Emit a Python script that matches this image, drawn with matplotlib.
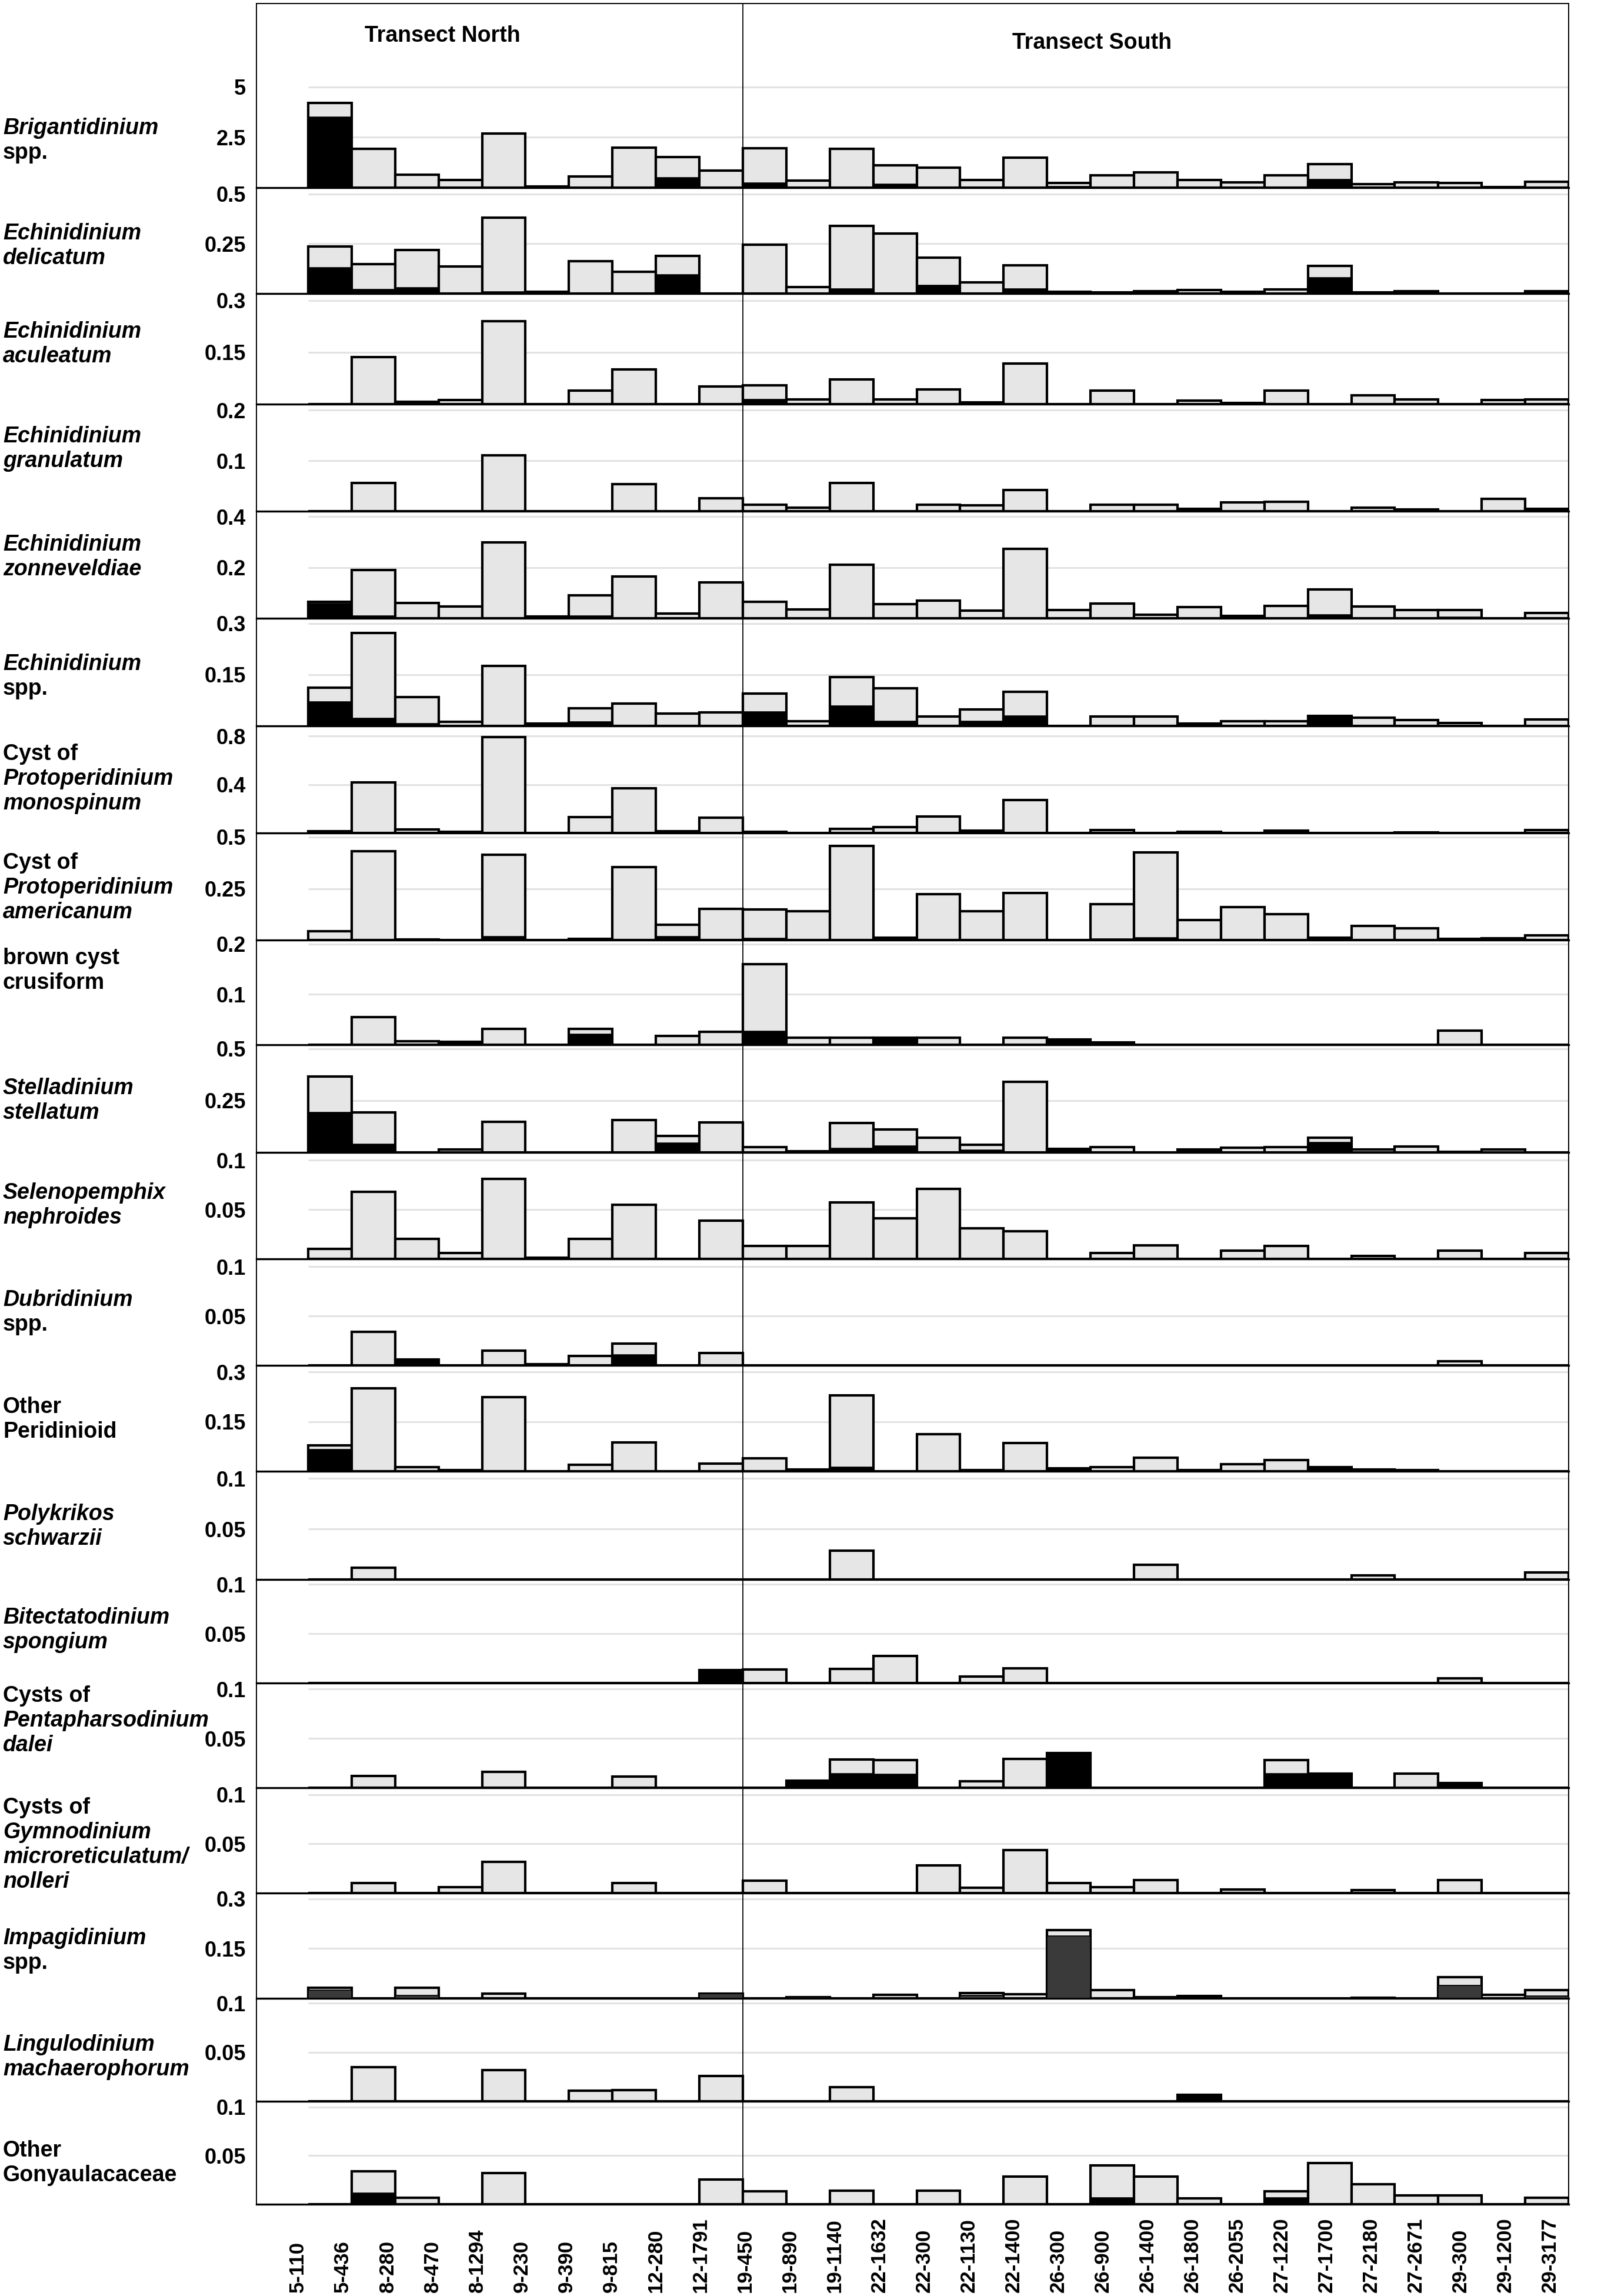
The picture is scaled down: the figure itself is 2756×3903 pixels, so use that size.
import matplotlib
matplotlib.use("Agg")
import matplotlib.pyplot as plt
from matplotlib.transforms import blended_transform_factory
import numpy as np

plt.rcParams['font.family'] = ['Liberation Sans', 'DejaVu Sans']

# ---------------- data ----------------
stations = ["5-110", "5-436", "8-280", "8-470", "8-1294", "9-230", "9-390", "9-815",
            "12-280", "12-1791", "19-450", "19-890", "19-1140", "22-1632", "22-300",
            "22-1130", "22-1400", "26-300", "26-900", "26-1400", "26-1800", "26-2055",
            "27-1220", "27-1700", "27-2180", "27-2671", "29-300", "29-1200", "29-3177"]

brigantidinium_total = [4.2, 1.94, 0.65, 0.37, 2.69, 0.07, 0.56, 1.98, 1.53, 0.84, 1.96, 0.34, 1.94, 1.1, 1.0,
                        0.37, 1.49, 0.24, 0.62, 0.77, 0.37, 0.26, 0.62, 1.18, 0.17, 0.26, 0.22, 0.04, 0.3]
brigantidinium_black = [3.5, 0, 0, 0, 0, 0, 0, 0, 0.49, 0, 0.22, 0, 0.03, 0.17, 0,
                        0, 0, 0.05, 0, 0, 0, 0, 0, 0.41, 0, 0, 0, 0, 0]

delicatum_total = [0.235, 0.147, 0.22, 0.137, 0.38, 0.01, 0.163, 0.11, 0.188, 0, 0.244, 0.032, 0.34, 0.30, 0.18,
                   0.055, 0.143, 0.009, 0.005, 0.013, 0.019, 0.009, 0.02, 0.14, 0.007, 0.013, 0, 0, 0.013]
delicatum_black = [0.13, 0.02, 0.03, 0, 0.01, 0, 0, 0, 0.094, 0, 0, 0, 0.024, 0, 0.04,
                   0, 0.024, 0.009, 0, 0, 0, 0, 0, 0.081, 0, 0, 0, 0, 0]

aculeatum_total = [0, 0.136, 0.007, 0.012, 0.24, 0, 0.04, 0.1, 0, 0.051, 0.054, 0.014, 0.071, 0.014, 0.043,
                   0.005, 0.117, 0, 0.04, 0, 0.011, 0.003, 0.04, 0, 0.025, 0.014, 0, 0.012, 0.014]
aculeatum_black = [0, 0, 0, 0, 0, 0, 0, 0, 0, 0, 0.014, 0, 0, 0, 0,
                   0, 0, 0, 0, 0, 0, 0, 0, 0, 0, 0, 0, 0, 0]

granulatum_total = [0, 0.056, 0, 0, 0.111, 0, 0, 0.054, 0, 0.026, 0.013, 0.007, 0.056, 0, 0.013,
                    0.012, 0.042, 0, 0.013, 0.013, 0.005, 0.018, 0.019, 0, 0.007, 0.004, 0, 0.024, 0.005]
granulatum_black = [0] * 29

zonneveldiae_total = [0.065, 0.189, 0.061, 0.046, 0.30, 0.007, 0.09, 0.164, 0.019, 0.142, 0.066, 0.035, 0.212, 0.055, 0.07,
                      0.031, 0.273, 0.033, 0.059, 0.015, 0.044, 0.01, 0.048, 0.113, 0.046, 0.032, 0.032, 0, 0.02]
zonneveldiae_black = [0.058, 0.009, 0, 0, 0, 0, 0.009, 0, 0, 0, 0, 0, 0, 0, 0,
                      0, 0, 0, 0, 0, 0, 0, 0, 0.015, 0, 0, 0.004, 0, 0]

echinidinium_total = [0.112, 0.272, 0.085, 0.012, 0.175, 0.007, 0.051, 0.065, 0.037, 0.039, 0.094, 0.014, 0.143, 0.11, 0.028,
                      0.049, 0.1, 0, 0.027, 0.028, 0.007, 0.013, 0.013, 0.03, 0.024, 0.018, 0.009, 0, 0.019]
echinidinium_black = [0.07, 0.022, 0.007, 0, 0, 0, 0.012, 0, 0, 0, 0.042, 0, 0.058, 0.014, 0,
                      0.014, 0.03, 0, 0, 0, 0, 0, 0, 0.03, 0, 0, 0, 0, 0]

monospinum_total = [0.014, 0.42, 0.028, 0.009, 0.79, 0, 0.131, 0.367, 0.014, 0.126, 0.009, 0, 0.035, 0.049, 0.138,
                    0.019, 0.274, 0, 0.026, 0, 0.012, 0, 0.019, 0, 0, 0.007, 0, 0, 0.026]
monospinum_black = [0] * 29

americanum_total = [0.043, 0.431, 0.004, 0, 0.414, 0, 0.007, 0.354, 0.073, 0.152, 0.148, 0.14, 0.457, 0.011, 0.224,
                    0.14, 0.229, 0, 0.174, 0.425, 0.098, 0.16, 0.126, 0.011, 0.07, 0.058, 0.007, 0.01, 0.023]
americanum_black = [0, 0, 0, 0, 0.017, 0, 0, 0, 0.018, 0, 0.01, 0, 0, 0, 0,
                    0, 0, 0, 0.005, 0.011, 0, 0, 0, 0.011, 0.004, 0, 0, 0, 0]

crusiform_total = [0, 0.055, 0.007, 0.006, 0.031, 0, 0.031, 0, 0.018, 0.026, 0.16, 0.014, 0.014, 0.014, 0.014,
                   0, 0.014, 0.011, 0.005, 0, 0, 0, 0, 0, 0, 0, 0.028, 0, 0]
crusiform_black = [0, 0, 0, 0.006, 0, 0, 0.021, 0, 0, 0, 0.027, 0, 0, 0.014, 0,
                   0, 0, 0.011, 0, 0, 0, 0, 0, 0, 0, 0, 0, 0, 0]

stellatum_total = [0.365, 0.193, 0, 0.014, 0.148, 0, 0, 0.156, 0.078, 0.145, 0.026, 0.007, 0.143, 0.111, 0.071,
                   0.036, 0.339, 0.016, 0.026, 0, 0.014, 0.023, 0.026, 0.071, 0.015, 0.029, 0.004, 0.014, 0]
stellatum_black = [0.193, 0.04, 0, 0, 0, 0, 0, 0, 0.044, 0, 0, 0, 0.019, 0.031, 0,
                   0.011, 0, 0.016, 0, 0, 0.014, 0, 0, 0.048, 0, 0, 0, 0, 0]

nephroides_total = [0.010, 0.068, 0.020, 0.006, 0.081, 0.001, 0.02, 0.055, 0, 0.039, 0.013, 0.013, 0.057, 0.041, 0.071,
                    0.031, 0.028, 0, 0.006, 0.0135, 0, 0.0086, 0.013, 0, 0.003, 0, 0.0086, 0, 0.006]
nephroides_black = [0] * 29

dubridinium_total = [0, 0.034, 0.006, 0, 0.015, 0.001, 0.0098, 0.022, 0, 0.0124, 0, 0, 0, 0, 0,
                     0, 0, 0, 0, 0, 0, 0, 0, 0, 0, 0, 0.004, 0, 0]
dubridinium_black = [0, 0, 0.006, 0, 0, 0, 0, 0.0106, 0, 0, 0, 0, 0, 0, 0,
                     0, 0, 0, 0, 0, 0, 0, 0, 0, 0, 0, 0, 0, 0]

peridinioid_total = [0.078, 0.25, 0.012, 0.004, 0.224, 0, 0.019, 0.088, 0, 0.023, 0.039, 0.005, 0.23, 0, 0.1125,
                     0.004, 0.085, 0.009, 0.013, 0.041, 0.004, 0.021, 0.034, 0.013, 0.006, 0.003, 0, 0, 0]
peridinioid_black = [0.066, 0, 0, 0, 0, 0, 0, 0, 0, 0, 0, 0, 0.012, 0, 0,
                     0, 0, 0.009, 0, 0, 0, 0, 0, 0.013, 0, 0, 0, 0, 0]

polykrikos_total = [0, 0.0117, 0, 0, 0, 0, 0, 0, 0, 0, 0, 0, 0.0285, 0, 0,
                    0, 0, 0, 0, 0.0145, 0, 0, 0, 0, 0.004, 0, 0, 0, 0.007]
polykrikos_black = [0] * 29

bitectatodinium_total = [0, 0, 0, 0, 0, 0, 0, 0, 0, 0.013, 0.0136, 0, 0.0145, 0.0275, 0,
                         0.0064, 0.015, 0, 0, 0, 0, 0, 0, 0, 0, 0, 0.005, 0, 0]
bitectatodinium_black = [0, 0, 0, 0, 0, 0, 0, 0, 0, 0.013, 0, 0, 0, 0, 0,
                         0, 0, 0, 0, 0, 0, 0, 0, 0, 0, 0, 0, 0, 0]

dalei_total = [0, 0.0117, 0, 0, 0.016, 0, 0, 0.0114, 0, 0, 0, 0.0069, 0.0286, 0.0277, 0,
               0.0066, 0.029, 0.035, 0, 0, 0, 0, 0.0277, 0.014, 0, 0.014, 0.0049, 0, 0]
dalei_black = [0, 0, 0, 0, 0, 0, 0, 0, 0, 0, 0, 0.0069, 0.0143, 0.0137, 0,
               0, 0, 0.035, 0, 0, 0, 0, 0.014, 0.014, 0, 0, 0.0049, 0, 0]

gymnodinium_total = [0, 0.0103, 0, 0.0057, 0.0316, 0, 0, 0.010, 0, 0, 0.0124, 0, 0, 0, 0.0279,
                     0.0055, 0.0434, 0.0103, 0.0057, 0.0129, 0, 0.0034, 0, 0, 0.0029, 0, 0.0129, 0, 0]
gymnodinium_black = [0] * 29

impagidinium_total = [0.0315, 0, 0.032, 0, 0.0136, 0, 0, 0, 0, 0.0136, 0, 0.003, 0, 0.011, 0,
                      0.016, 0.012, 0.205, 0.0256, 0.003, 0.0077, 0, 0, 0, 0.001, 0, 0.064, 0.010, 0.025]
impagidinium_dark = [0.024, 0, 0.0085, 0, 0, 0, 0, 0, 0, 0.0136, 0, 0.003, 0, 0, 0,
                     0.0085, 0, 0.187, 0, 0.003, 0, 0, 0, 0, 0.001, 0, 0.039, 0, 0.0077]

lingulodinium_total = [0, 0.0346, 0, 0, 0.032, 0, 0.0108, 0.0113, 0, 0.026, 0, 0, 0.0145, 0, 0,
                       0, 0, 0, 0, 0, 0.0064, 0, 0, 0, 0, 0, 0, 0, 0]
lingulodinium_black = [0, 0, 0, 0, 0, 0, 0, 0, 0, 0, 0, 0, 0, 0, 0,
                       0, 0, 0, 0, 0, 0.0064, 0, 0, 0, 0, 0, 0, 0, 0]

gonyaulacaceae_total = [0, 0.034, 0.0064, 0, 0.032, 0, 0, 0, 0, 0.0254, 0.0134, 0, 0.014, 0, 0.014,
                        0, 0.0287, 0, 0.040, 0.0287, 0.0058, 0, 0.0134, 0.0427, 0.0205, 0.009, 0.009, 0, 0.0064]
gonyaulacaceae_black = [0, 0.0117, 0, 0, 0, 0, 0, 0, 0, 0, 0, 0, 0, 0, 0,
                        0, 0, 0, 0.0064, 0, 0, 0, 0.0064, 0, 0, 0, 0, 0, 0]

species_labels = [
    [("Brigantidinium", True), ("spp.", False)],
    [("Echinidinium", True), ("delicatum", True)],
    [("Echinidinium", True), ("aculeatum", True)],
    [("Echinidinium", True), ("granulatum", True)],
    [("Echinidinium", True), ("zonneveldiae", True)],
    [("Echinidinium", True), ("spp.", False)],
    [("Cyst of", False), ("Protoperidinium", True), ("monospinum", True)],
    [("Cyst of", False), ("Protoperidinium", True), ("americanum", True)],
    [("brown cyst", False), ("crusiform", False)],
    [("Stelladinium", True), ("stellatum", True)],
    [("Selenopemphix", True), ("nephroides", True)],
    [("Dubridinium", True), ("spp.", False)],
    [("Other", False), ("Peridinioid", False)],
    [("Polykrikos", True), ("schwarzii", True)],
    [("Bitectatodinium", True), ("spongium", True)],
    [("Cysts of", False), ("Pentapharsodinium", True), ("dalei", True)],
    [("Cysts of", False), ("Gymnodinium", True), ("microreticulatum/", True), ("nolleri", True)],
    [("Impagidinium", True), ("spp.", False)],
    [("Lingulodinium", True), ("machaerophorum", True)],
    [("Other", False), ("Gonyaulacaceae", False)],
]

totals = [brigantidinium_total, delicatum_total, aculeatum_total, granulatum_total, zonneveldiae_total,
          echinidinium_total, monospinum_total, americanum_total, crusiform_total, stellatum_total,
          nephroides_total, dubridinium_total, peridinioid_total, polykrikos_total, bitectatodinium_total,
          dalei_total, gymnodinium_total, impagidinium_total, lingulodinium_total, gonyaulacaceae_total]
inners = [brigantidinium_black, delicatum_black, aculeatum_black, granulatum_black, zonneveldiae_black,
          echinidinium_black, monospinum_black, americanum_black, crusiform_black, stellatum_black,
          nephroides_black, dubridinium_black, peridinioid_black, polykrikos_black, bitectatodinium_black,
          dalei_black, gymnodinium_black, impagidinium_dark, lingulodinium_black, gonyaulacaceae_black]

ytick_values = [[2.5, 5], [0.25, 0.5], [0.15, 0.3], [0.1, 0.2], [0.2, 0.4], [0.15, 0.3], [0.4, 0.8],
                [0.25, 0.5], [0.1, 0.2], [0.25, 0.5], [0.05, 0.1], [0.05, 0.1], [0.15, 0.3], [0.05, 0.1],
                [0.05, 0.1], [0.05, 0.1], [0.05, 0.1], [0.15, 0.3], [0.05, 0.1], [0.05, 0.1]]
ytick_labels = [["2.5", "5"], ["0.25", "0.5"], ["0.15", "0.3"], ["0.1", "0.2"], ["0.2", "0.4"], ["0.15", "0.3"],
                ["0.4", "0.8"], ["0.25", "0.5"], ["0.1", "0.2"], ["0.25", "0.5"], ["0.05", "0.1"], ["0.05", "0.1"],
                ["0.15", "0.3"], ["0.05", "0.1"], ["0.05", "0.1"], ["0.05", "0.1"], ["0.05", "0.1"],
                ["0.15", "0.3"], ["0.05", "0.1"], ["0.05", "0.1"]]
y_max = [9.15, 0.532, 0.32, 0.212, 0.422, 0.315, 0.884, 0.52, 0.208, 0.519, 0.108, 0.108, 0.32, 0.107,
         0.105, 0.106, 0.107, 0.317, 0.105, 0.106]

# ---------------- layout (pixels) ----------------
W, H = 2756, 3903
left_px, right_px = 436, 2667
edges_px = [6, 319, 499, 687, 869, 1051, 1234, 1416, 1598, 1776, 1959, 2140, 2321, 2501, 2685,
            2861, 3039, 3218, 3397, 3572, 3747]
label_frac = [0.256, 0.45, 0.54, 0.585, 0.57, 0.46, 0.505, 0.49, 0.71, 0.48, 0.5, 0.5, 0.49, 0.49,
              0.51, 0.64, 0.46, 0.45, 0.43, 0.40]
line_gap_px = 42

GREY = '#e6e6e6'
fig = plt.figure(figsize=(W / 100, H / 100), dpi=100)
x = np.arange(len(stations))
n = len(stations)

axes = []
for k in range(20):
    t, b = edges_px[k], edges_px[k + 1]
    ax = fig.add_axes([left_px / W, 1 - b / H, (right_px - left_px) / W, (b - t) / H])
    axes.append(ax)
    ax.set_xlim(-1.69, n - 0.5)
    ax.set_ylim(0, y_max[k])
    for yv in ytick_values[k]:
        ax.plot([-0.5, n - 0.5], [yv, yv], color='#e2e2e2', lw=2.2, zorder=0, solid_capstyle='butt')
    ax.bar(x, totals[k], width=1.0, color=GREY, edgecolor='black', linewidth=3.0, zorder=2)
    inner_color = '#3a3a3a' if k == 17 else 'black'
    ax.bar(x, inners[k], width=1.0, color=inner_color, edgecolor='black', linewidth=1.2, zorder=3)
    ax.axvline(9.5, color='black', lw=1.3, zorder=4)
    ax.set_yticks(ytick_values[k])
    ax.set_yticklabels(ytick_labels[k], fontsize=26, fontweight='bold')
    ax.tick_params(axis='y', length=0, pad=13)
    ax.set_xticks([])
    for s in ['left', 'right']:
        ax.spines[s].set_linewidth(1.4)
    ax.spines['bottom'].set_linewidth(2.4)
    ax.spines['top'].set_visible(k == 0)
    ax.spines['top'].set_linewidth(1.4)
    ax.set_facecolor('none')

    # species label
    center_px = b - label_frac[k] * (b - t)
    lines = species_labels[k]
    m = len(lines)
    for j, (txt, ital) in enumerate(lines):
        ypx = center_px + (j - (m - 1) / 2) * line_gap_px
        fig.text(5 / W, 1 - ypx / H, txt, fontsize=27, fontweight='bold',
                 fontstyle='italic' if ital else 'normal', ha='left', va='center')

# transect titles
fig.text(752 / W, 1 - 61 / H, "Transect North", fontsize=27, fontweight='bold', ha='center', va='center')
fig.text(1857 / W, 1 - 73 / H, "Transect South", fontsize=27, fontweight='bold', ha='center', va='center')

# station labels along the bottom
ax_b = axes[-1]
trans = blended_transform_factory(ax_b.transData, fig.transFigure)
label_pos = -0.73 + 1.0284 * np.arange(n)
for pos, lab in zip(label_pos, stations):
    ax_b.text(pos, 6 / H, lab, transform=trans, rotation=90, ha='center', va='bottom',
              fontsize=25, fontweight='bold', clip_on=False)

fig.savefig("out.png", dpi=100, facecolor='white')
